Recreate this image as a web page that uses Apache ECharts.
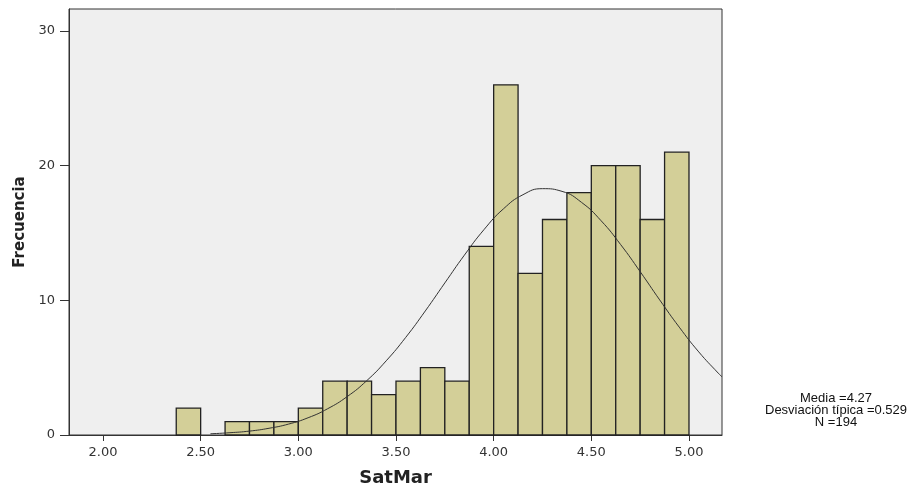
<!DOCTYPE html>
<html><head><meta charset="utf-8">
<script src="https://cdn.jsdelivr.net/npm/echarts@6/dist/echarts.min.js"></script>
<style>html,body{margin:0;padding:0;background:#fff}#c{width:915px;height:485px}</style>
</head><body><div id="c"></div>
<script>
// Histogram bins (start of each bin, width 0.125) and frequencies
var binStarts = [2.375, 2.625, 2.75, 2.875, 3.0, 3.125, 3.25, 3.375, 3.5, 3.625, 3.75, 3.875, 4.0, 4.125, 4.25, 4.375, 4.5, 4.625, 4.75, 4.875];
var counts    = [2, 1, 1, 1, 2, 4, 4, 3, 4, 5, 4, 14, 26, 12, 16, 18, 20, 20, 16, 21];
var binWidth = 0.125;
// Normal curve
var curveX = [2.55, 2.65, 2.75, 2.85, 2.95, 3.05, 3.15, 3.25, 3.35, 3.45, 3.55, 3.65, 3.75, 3.85, 3.95, 4.05, 4.15, 4.25, 4.35, 4.45, 4.55, 4.65, 4.75, 4.85, 4.95, 5.05, 5.15, 5.169];
var curveY = [0.09, 0.17, 0.29, 0.50, 0.81, 1.28, 1.95, 2.85, 4.03, 5.51, 7.25, 9.21, 11.29, 13.35, 15.24, 16.79, 17.84, 18.29, 18.09, 17.27, 15.91, 14.14, 12.13, 10.03, 8.01, 6.17, 4.59, 4.32];
var xTicks = [2.0, 2.5, 3.0, 3.5, 4.0, 4.5, 5.0];
var yTicks = [0, 10, 20, 30];
var statsLines = ['Media =4.27', 'Desviación típica =0.529', 'N =194'];

var font = '"DejaVu Sans", sans-serif';
var lfont = '"Liberation Sans", Arial, sans-serif';
var chart = echarts.init(document.getElementById('c'), null, {renderer: 'canvas'});
var barData = binStarts.map(function (s, i) { return [s, s + binWidth, counts[i]]; });
var lineData = curveX.map(function (x, i) { return [x, curveY[i]]; });

chart.setOption({
  animation: false,
  backgroundColor: '#ffffff',
  grid: {left: 69, top: 9, right: 193, bottom: 50, containLabel: false, outerBoundsMode: 'none',
    show: true, backgroundColor: '#efefef', borderColor: '#333333', borderWidth: 1},
  xAxis: {
    type: 'value', min: 1.826, max: 5.169,
    name: 'SatMar', nameLocation: 'middle', nameGap: 34,
    nameTextStyle: {fontFamily: font, fontSize: 18, fontWeight: 'bold', color: '#222'},
    axisLine: {show: true, lineStyle: {color: '#333', width: 1}},
    axisTick: {show: true, length: 6, customValues: xTicks, lineStyle: {color: '#333'}},
    axisLabel: {customValues: xTicks, fontFamily: font, fontSize: 13, color: '#333', margin: 11,
      formatter: function (v) { return v.toFixed(2); }},
    splitLine: {show: false}
  },
  yAxis: {
    type: 'value', min: 0, max: 31.63,
    name: 'Frecuencia', nameLocation: 'middle', nameGap: 38,
    nameTextStyle: {fontFamily: font, fontSize: 15, fontWeight: 'bold', color: '#222'},
    axisLine: {show: true, lineStyle: {color: '#333', width: 1}},
    axisTick: {show: true, length: 9, customValues: yTicks, lineStyle: {color: '#333'}},
    axisLabel: {customValues: yTicks, fontFamily: font, fontSize: 13, color: '#333', margin: 14},
    splitLine: {show: false}
  },
  series: [
    {
      type: 'custom',
      data: barData,
      encode: {x: [0, 1], y: 2},
      renderItem: function (params, api) {
        var p0 = api.coord([api.value(0), api.value(2)]);
        var p1 = api.coord([api.value(1), 0]);
        return {
          type: 'rect',
          shape: {x: p0[0], y: p0[1], width: p1[0] - p0[0], height: p1[1] - p0[1]},
          style: {fill: '#d3cf98', stroke: '#222222', lineWidth: 1.3}
        };
      },
      z: 2
    },
    {
      type: 'line', data: lineData, smooth: true, symbol: 'none',
      lineStyle: {color: '#333333', width: 1}, z: 3
    }
  ],
  graphic: [{
    type: 'text', x: 836, y: 392,
    style: {text: statsLines.join('\n'), font: '13px ' + lfont, lineHeight: 12, fill: '#111', align: 'center', verticalAlign: 'top'}
  }]
});
</script></body></html>
